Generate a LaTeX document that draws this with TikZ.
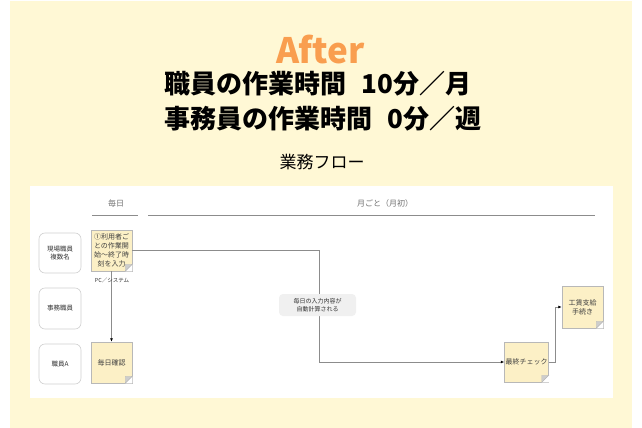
\documentclass[tikz,border=0pt]{standalone}
\usepackage{fontspec}
\setmainfont{Noto Sans CJK JP}
\usetikzlibrary{arrows.meta,calc}
\definecolor{bgyellow}{HTML}{FFF8D5}
\definecolor{stickyfill}{HTML}{FCF0C6}
\definecolor{stickyline}{HTML}{B8B8B8}
\definecolor{lanedraw}{HTML}{D0D0D0}
\definecolor{orangeT}{HTML}{F99E4F}
\definecolor{headgray}{HTML}{707070}
\definecolor{linegray}{HTML}{8C8C8C}
\definecolor{calcfill}{HTML}{F0F0F0}
\newcommand{\foldcorner}[1]{%
  \fill[white] (#1.south east) -- ++(-7,0) -- ++(7,-7) -- cycle;
  \filldraw[fill=stickyline!70,draw=stickyline,line width=0.4pt]
    (#1.south east) ++(0,-7) -- ++(-7,7) -- ++(0,-7) -- cycle;
}
\begin{document}
\begin{tikzpicture}[x=1pt,y=-1pt,
  lanebox/.style={draw=lanedraw,fill=white,rounded corners=6pt,line width=0.6pt,
    minimum width=42pt,minimum height=40pt,align=center,font=\fontsize{6.5}{8.5}\selectfont,text=black!80,inner sep=1pt},
  sticky/.style={draw=stickyline,fill=stickyfill,line width=0.5pt,
    minimum width=41pt,minimum height=41pt,align=center,font=\fontsize{7}{9}\selectfont,text=black!75,inner sep=1pt},
  headtxt/.style={font=\fontsize{8}{10}\selectfont,text=headgray},
  headline/.style={draw=linegray,line width=0.7pt},
  conn/.style={draw=linegray,line width=0.8pt},
  arr/.style={conn,-{Latex[length=3.5pt,width=3pt,black]}},
  calcbox/.style={fill=calcfill,rounded corners=4pt,minimum width=77pt,minimum height=22pt,
    align=center,font=\fontsize{6}{8}\selectfont,text=black!80,inner sep=1pt}
]
\useasboundingbox (0,0) rectangle (642,428);
\fill[white] (0,0) rectangle (642,428);
\fill[bgyellow] (10,1) rectangle (632,428);
\fill[white] (30,186) rectangle (613,398);

% titles
\node (after) at (320.5,50) {\fontsize{35}{40}\selectfont\bfseries\color{orangeT}After};
\node (t1) at (318,84) {\fontsize{26}{30}\selectfont\bfseries 職員の作業時間\hspace{0.6em}10分／月};
\node (t2) at (323,119) {\fontsize{26}{30}\selectfont\bfseries 事務員の作業時間\hspace{0.6em}0分／週};
\node (flow) at (322,162) {\fontsize{17}{20}\selectfont 業務フロー};

% header
\node[headtxt] (hd1) at (116,203) {毎日};
\node[headtxt] (hd2) at (385,203) {月ごと（月初）};
\draw[headline] (92,215) -- (138,215);
\draw[headline] (148,215) -- (595,215);

% lanes
\node[lanebox] (l1) at (60,253) {現場職員\\複数名};
\node[lanebox,minimum height=41pt] (l2) at (60,308.5) {事務職員};
\node[lanebox] (l3) at (60,364) {職員A};

% sticky notes
\node[sticky] (n1) at (111.5,250.5) {①利用者ご\\との作業開\\始～終了時\\刻を入力};
\node[sticky] (n2) at (111.5,362.5) {毎日確認};
\node[sticky,minimum width=43pt,minimum height=40pt] (n3) at (526.5,362) {最終チェック};
\node[sticky,minimum height=42pt] (n4) at (582.5,307) {工賃支給\\手続き};
\foldcorner{n1}\foldcorner{n2}\foldcorner{n3}\foldcorner{n4}

% connectors
\coordinate (b1) at (319,250.5);
\draw[arr] (n1.east) -- (b1) |- (n3.west);
\draw[arr] (n1.south) -- (n2.north);
\node[font=\fontsize{5.5}{7}\selectfont,text=black!80] (pc) at (112,280) {PC／システム};
\coordinate (b2) at (555,362);
\draw[arr] (n3.east) -- (b2) |- (n4.west);
\node[calcbox] (calc) at (317.5,305) {毎日の入力内容が\\自動計算される};
\end{tikzpicture}
\end{document}
